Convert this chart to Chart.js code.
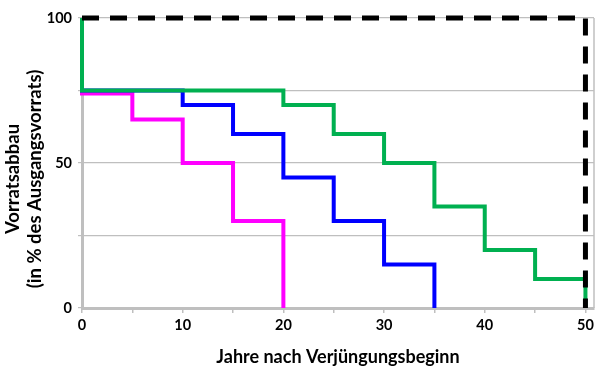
<!DOCTYPE html>
<html>
<head>
<meta charset="utf-8">
<script src="https://cdn.jsdelivr.net/npm/chart.js@4/dist/chart.umd.min.js"></script>
<style>
html,body{margin:0;padding:0;background:#fff;}
#wrap{width:600px;height:368px;position:relative;}
</style>
</head>
<body>
<div id="wrap"><canvas id="c" width="600" height="368"></canvas></div>
<script>
// Step points (year, % of initial stock); each step drops at the given year
const magentaYears = [0, 0, 5, 10, 15, 20];
const magentaValues = [100, 74, 65, 50, 30, 0];
const blueYears = [0, 0, 10, 15, 20, 25, 30, 35];
const blueValues = [100, 75, 70, 60, 45, 30, 15, 0];
const greenYears = [0, 0, 20, 25, 30, 35, 40, 45, 50];
const greenValues = [100, 75, 70, 60, 50, 35, 20, 10, 0];
const blackYears = [0, 50, 50];
const blackValues = [100, 100, 0];
const xTickPositions = [0, 5, 10, 15, 20, 25, 30, 35, 40, 45, 50];
const xTickLabels = [0, 10, 20, 30, 40, 50];
const yTickPositions = [0, 25, 50, 75, 100];
const yTickLabels = [0, 50, 100];
const xTitle = 'Jahre nach Verjüngungsbeginn';
const yTitleLines = ['Vorratsabbau', '(in % des Ausgangsvorrats)'];

const pts = (xs, ys) => xs.map((x, i) => ({x: x, y: ys[i]}));
const FONT = "Lato, 'Liberation Sans', sans-serif";
const GRAY = '#BFBFBF';

const extras = {
  id: 'extras',
  beforeDatasetsDraw(chart) {
    const a = chart.chartArea, ctx = chart.ctx;
    ctx.save();
    ctx.strokeStyle = GRAY; ctx.lineWidth = 1.5;
    ctx.beginPath(); ctx.moveTo(a.right, a.top); ctx.lineTo(a.right, a.bottom); ctx.stroke();
    ctx.restore();
  },
  afterDraw(chart) {
    const ctx = chart.ctx;
    ctx.save();
    ctx.fillStyle = '#000';
    ctx.font = "bold 18.5px " + FONT;
    ctx.textAlign = 'center';
    ctx.textBaseline = 'middle';
    ctx.translate(0, 179);
    ctx.rotate(-Math.PI / 2);
    ctx.fillText(yTitleLines[0], 0, 13);
    ctx.fillText(yTitleLines[1], 0, 35);
    ctx.restore();
  }
};

new Chart(document.getElementById('c'), {
  type: 'line',
  data: {
    datasets: [
      {data: pts(blackYears, blackValues), borderColor: '#000', borderWidth: 5, borderDash: [17, 11], stepped: true, order: 0},
      {data: pts(greenYears, greenValues), borderColor: '#00B050', borderWidth: 4, stepped: true, order: 1},
      {data: pts(blueYears, blueValues), borderColor: '#0000FF', borderWidth: 4, stepped: true, order: 2},
      {data: pts(magentaYears, magentaValues), borderColor: '#FF00FF', borderWidth: 4, stepped: true, order: 3}
    ]
  },
  options: {
    responsive: false,
    animation: false,
    devicePixelRatio: 1,
    layout: {padding: {left: 0, right: 6, top: 18, bottom: 0}},
    elements: {point: {radius: 0}, line: {tension: 0, borderCapStyle: 'butt'}},
    datasets: {line: {clip: false}},
    plugins: {legend: {display: false}, tooltip: {enabled: false}},
    scales: {
      x: {
        type: 'linear', min: 0, max: 50.85,
        afterBuildTicks: s => { s.ticks = xTickPositions.map(v => ({value: v})); },
        afterFit: s => { s.height = 60; },
        ticks: {
          autoSkip: false, maxRotation: 0, padding: 4,
          color: '#000', font: {family: FONT, size: 14.5, weight: 'bold'},
          callback: v => xTickLabels.includes(v) ? String(v) : ''
        },
        grid: {drawOnChartArea: false, drawTicks: true, tickLength: 5, color: GRAY, lineWidth: 1.5},
        border: {display: true, color: GRAY, width: 3},
        title: {display: true, text: xTitle, color: '#000',
          font: {family: FONT, size: 18, weight: 'bold'}, padding: {top: 2, bottom: 0}}
      },
      y: {
        min: 0, max: 100,
        afterBuildTicks: s => { s.ticks = yTickPositions.map(v => ({value: v})); },
        afterFit: s => { s.width = 82; },
        ticks: {
          autoSkip: false, padding: 6,
          color: '#000', font: {family: FONT, size: 14.5, weight: 'bold'},
          callback: v => yTickLabels.includes(v) ? String(v) : ''
        },
        grid: {color: GRAY, lineWidth: 1.2, tickLength: 4},
        border: {display: true, color: GRAY, width: 3},
        title: {display: false}
      }
    }
  },
  plugins: [extras]
});
</script>
</body>
</html>
